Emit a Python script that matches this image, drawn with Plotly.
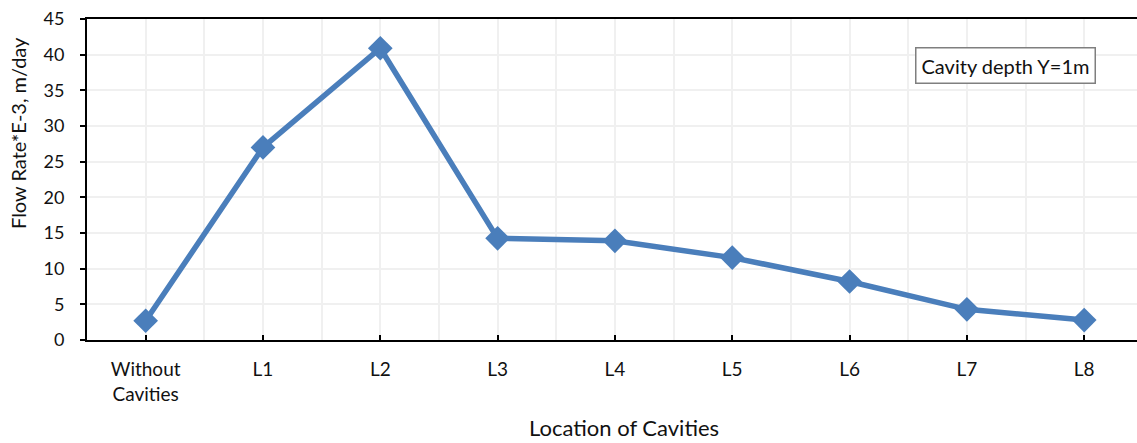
import plotly.graph_objects as go

categories = ["Without<br>Cavities", "L1", "L2", "L3", "L4", "L5", "L6", "L7", "L8"]
flow_rate = [2.7, 27.0, 40.9, 14.25, 13.9, 11.55, 8.2, 4.3, 2.8]
y_ticks = [0, 5, 10, 15, 20, 25, 30, 35, 40, 45]
x_title = "Location of Cavities"
y_title = "Flow Rate*E-3, m/day"
note = "Cavity depth Y=1m"

FONT = "Lato"
x_pos = list(range(len(categories)))

fig = go.Figure()
fig.add_trace(go.Scatter(
    x=x_pos, y=flow_rate, mode="lines+markers",
    line=dict(color="#4A7EBB", width=5.5),
    marker=dict(symbol="diamond", size=19, color="#4A7EBB"),
    showlegend=False, cliponaxis=False,
))

fig.update_layout(
    width=1137, height=443,
    margin=dict(l=87, r=0, t=19, b=103),
    paper_bgcolor="white", plot_bgcolor="white",
    font=dict(family=FONT, size=18, color="#111111"),
    xaxis=dict(
        range=[-0.5, 8.45], tickvals=x_pos, ticktext=categories,
        showgrid=True, gridcolor="#F0F0F0", gridwidth=2,
        minor=dict(dtick=0.5, tick0=-0.5, showgrid=True, gridcolor="#F0F0F0", gridwidth=2),
        showline=True, linecolor="#000000", linewidth=2, mirror=True,
        ticks="inside", ticklen=5, tickwidth=2, tickcolor="#000000",
        tickfont=dict(family=FONT, size=19), zeroline=False,
        ticklabelstandoff=11,
    ),
    yaxis=dict(
        range=[0, 45], tickvals=y_ticks,
        showgrid=True, gridcolor="#F0F0F0", gridwidth=2,
        showline=True, linecolor="#000000", linewidth=2,
        ticks="outside", ticklen=5, tickwidth=2, tickcolor="#000000",
        tickfont=dict(family=FONT, size=18), zeroline=False,
        ticklabelstandoff=12,
    ),
    annotations=[
        dict(text=x_title, xref="paper", yref="paper", x=(624 - 87) / 1050, y=-(427 - 340) / 321,
             showarrow=False, font=dict(family=FONT, size=22), xanchor="center", yanchor="middle"),
        dict(text=y_title, xref="paper", yref="paper", x=-(87 - 18) / 1050, y=(340 - 133) / 321,
             textangle=-90, showarrow=False, font=dict(family=FONT, size=20),
             xanchor="center", yanchor="middle"),
        dict(text=note, xref="paper", yref="paper", x=(1005.5 - 87) / 1050, y=(340 - 65.5) / 321,
             showarrow=False, font=dict(family=FONT, size=20), xanchor="center", yanchor="middle",
             bordercolor="#7F7F7F", borderwidth=1.5, borderpad=5, bgcolor="white"),
    ],
)

fig.write_html("out.html")
